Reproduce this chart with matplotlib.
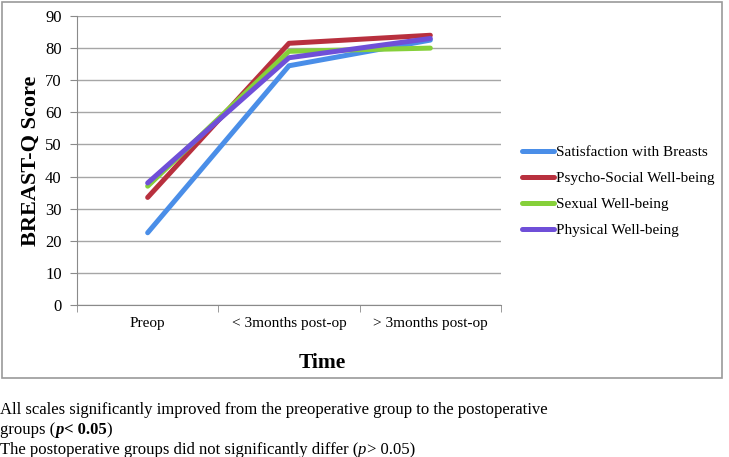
import matplotlib
matplotlib.use("Agg")
import matplotlib.pyplot as plt
from matplotlib.patches import Rectangle

# data
times = ["Preop", "< 3months post-op", "> 3months post-op"]
satisfaction = [22.5, 74.5, 82.5]
psycho_social = [33.5, 81.5, 84.0]
sexual = [37.0, 79.0, 80.0]
physical = [38.0, 77.0, 83.0]

series_names = [
    "Satisfaction with Breasts",
    "Psycho-Social Well-being",
    "Sexual Well-being",
    "Physical Well-being",
]
series_colors = ["#4a8ee8", "#b8303e", "#86d03a", "#6f4fd8"]

plt.rcParams["font.family"] = ["Liberation Serif", "DejaVu Serif"]

W, H = 729, 457
fig = plt.figure(figsize=(W / 100, H / 100), dpi=100)

# outer chart frame
fig.patches.append(Rectangle((2 / W, 1 - 378 / H), 720 / W, 376 / H,
                             transform=fig.transFigure, fill=False,
                             edgecolor="#9a9a9a", linewidth=1.2))

ax = fig.add_axes([77 / W, 1 - 305 / H, 424 / W, 289 / H])

x = list(range(len(times)))
for vals, name, col in zip([satisfaction, psycho_social, sexual, physical],
                           series_names, series_colors):
    ax.plot(x, vals, color=col, linewidth=3.6, label=name,
            solid_capstyle="round", solid_joinstyle="round")

ax.set_xlim(-0.5, 2.5)
ax.set_ylim(0, 90)
ax.set_yticks(range(0, 91, 10))
ax.set_xticks(x)
ax.set_xticklabels(times, fontsize=11)
ax.set_xticks([-0.5, 0.5, 1.5, 2.5], minor=True)
ax.tick_params(axis="x", which="major", length=0, pad=9)
ax.tick_params(axis="x", which="minor", length=5, color="#8a8a8a", direction="out")
ax.tick_params(axis="y", length=5, color="#8a8a8a", labelsize=12, pad=6)
ax.yaxis.grid(True, color="#a6a6a6", linewidth=1.0)
ax.set_axisbelow(True)
for s in ["top", "right"]:
    ax.spines[s].set_visible(False)
ax.spines["left"].set_color("#8a8a8a")
ax.spines["bottom"].set_color("#8a8a8a")

ax.set_ylabel("BREAST-Q Score", fontsize=16, fontweight="bold")
ax.yaxis.set_label_coords((31 - 77) / 424, 0.5)
ax.set_xlabel("Time", fontsize=15.5, fontweight="bold")
ax.xaxis.set_label_coords((322 - 77) / 424, -(363 - 305) / 289)
ax.xaxis.label.set_va("center")
ax.yaxis.label.set_va("center")

ax.legend(loc="center left", bbox_to_anchor=(1.05, 0.393), frameon=False,
          fontsize=11, handlelength=2.1, handletextpad=0.1, labelspacing=0.8,
          borderpad=0, borderaxespad=0)

# footnote, written piece by piece so that p can be italic / bold
fig.canvas.draw()
renderer = fig.canvas.get_renderer()


def write_line(y_px, pieces):
    xpos = 0.0
    for txt, kw in pieces:
        t = fig.text(xpos, 1 - y_px / H, txt, fontsize=12, va="center", **kw)
        bb = t.get_window_extent(renderer)
        xpos = bb.x1 / fig.bbox.width


write_line(410, [("All scales significantly improved from the preoperative group to the postoperative", {})])
write_line(430, [("groups (", {}),
                 ("p", dict(style="italic", fontweight="bold")),
                 ("< 0.05", dict(fontweight="bold")),
                 (")", {})])
write_line(450, [("The postoperative groups did not significantly differ (", {}),
                 ("p", dict(style="italic")),
                 ("> 0.05)", {})])

fig.savefig("out.png", dpi=100)
